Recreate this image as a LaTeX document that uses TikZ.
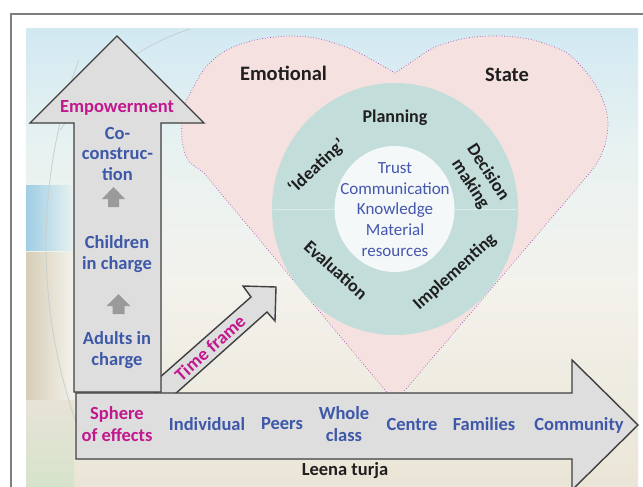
\documentclass[tikz,border=0pt]{standalone}
\usepackage{fontspec}
\setmainfont{Carlito}
\definecolor{lblblue}{HTML}{3D58A8}
\definecolor{lblmag}{HTML}{C2188E}
\definecolor{arrowfill}{HTML}{DEDEDE}
\definecolor{arrowline}{HTML}{3F3F3F}
\definecolor{heartfill}{HTML}{F5E1DF}
\definecolor{heartline}{HTML}{A450B8}
\definecolor{ringfill}{HTML}{C3DDDA}
\definecolor{innerfill}{HTML}{F4F8F8}
\definecolor{innertext}{HTML}{4557AE}
\definecolor{smallarrow}{HTML}{9A9A9A}
\definecolor{frameline}{HTML}{7F7F7F}
\definecolor{bgA}{HTML}{D2E9F2}
\definecolor{bgB}{HTML}{E8F2F1}
\definecolor{bgC}{HTML}{F3F2EC}
\definecolor{bgD}{HTML}{EAE5D6}
\definecolor{patchblue}{HTML}{9FCDE4}
\definecolor{patchtan}{HTML}{D6CDB6}
\definecolor{patchgreen}{HTML}{D6E3CB}
\definecolor{arcline}{HTML}{C9CFCB}
\begin{document}
\begin{tikzpicture}[x=1pt,y=-1pt,
  bigarrow/.style={fill=arrowfill, draw=arrowline, line width=1.4pt, line join=miter},
  lbl/.style={inner sep=0pt, align=center, font=\bfseries\fontsize{18.5}{21}\selectfont},
  bluelbl/.style={lbl, text=lblblue},
  maglbl/.style={lbl, text=lblmag},
  titlelbl/.style={lbl, text=black!88, font=\bfseries\fontsize{20.5}{24}\selectfont},
  ringlbl/.style={lbl, text=black!88, font=\bfseries\fontsize{18}{21}\selectfont},
  smallup/.style={fill=smallarrow}
]
\useasboundingbox (0,0) rectangle (643,487);
\fill[white] (0,0) rectangle (643,487);
% background
\shade[top color=bgA, bottom color=bgB] (26,29) rectangle (638,151);
\shade[top color=bgB, bottom color=bgC] (26,150) rectangle (638,281);
\shade[top color=bgC, bottom color=bgD] (26,280) rectangle (638,487);
\shade[left color=patchblue, right color=bgB] (26,185) rectangle (74,250);
\shade[left color=patchtan, right color=bgC] (26,252) rectangle (74,400);
\shade[top color=patchtan!40!bgC, bottom color=patchgreen] (26,400) rectangle (74,487);
\draw[arcline, line width=0.8pt] (586,245) ++(200:540) arc[start angle=200, end angle=157, radius=540];
\draw[arcline, line width=0.8pt] (190,29) .. controls (140,45) and (100,75) .. (60,130);
% frame
\draw[frameline, line width=1.5pt] (11,487) -- (11,14) -- (643,14);
% heart
\path[fill=heartfill, draw=heartline, line width=0.7pt, dotted]
  (395,402) -- (203,172)
  -- plot[smooth] coordinates {(203,172) (188,160) (182,140) (183,110) (192,90) (205,68) (225,51) (255,40) (290,36) (320,39) (353,50) (383,66) (395,73)}
  -- plot[smooth] coordinates {(395,73) (410,63) (435,47) (467,38) (500,36) (533,40) (567,53) (590,77) (603,100) (608,122) (605,145) (597,163) (588,175)}
  -- cycle;
% ring
\fill[ringfill] (395,209) ellipse[x radius=123, y radius=126];
\draw[ringfill!60!white, line width=0.8pt] (273,209) -- (335,209) (455,209) -- (517,209);
\fill[innerfill] (394.5,209) ellipse[x radius=60, y radius=63];
% time frame arrow
\filldraw[bigarrow] (150,386) -- (251,297) -- (243,286) -- (276,287) -- (275,321) -- (267,312) -- (165,403) -- cycle;
% vertical arrow
\filldraw[bigarrow] (117,36) -- (204,123) -- (161,123) -- (161,392) -- (74,392) -- (74,123) -- (30,123) -- cycle;
% horizontal arrow
\filldraw[bigarrow] (76,393) -- (572,393) -- (572,360) -- (638,425) -- (572,490) -- (572,459) -- (76,459) -- cycle;
% small arrows
\fill[smallup] (113.5,187) -- (125,199) -- (119,199) -- (119,207) -- (108,207) -- (108,199) -- (102,199) -- cycle;
\fill[smallup] (118.5,294) -- (130.5,306) -- (124.5,306) -- (124.5,314) -- (112.5,314) -- (112.5,306) -- (106.5,306) -- cycle;
% labels
\node[titlelbl] (emo) at (283.5,73) {Emotional};
\node[titlelbl] (state) at (507,75) {State};
\node[ringlbl] (plan) at (395,117.5) {Planning};
\node[ringlbl, rotate=43] (idea) at (317,167) {‘Ideating’};
\node[ringlbl, rotate=-57] (dec) at (479,178.5) {Decision\\making};
\node[ringlbl, rotate=-42] (eval) at (336,270) {Evaluation};
\node[ringlbl, rotate=42] (impl) at (455,272) {Implementing};
\node[inner sep=0pt, align=center, text=innertext, font=\fontsize{17}{20.7}\selectfont] (core) at (395,209.5) {Trust\\Communication\\Knowledge\\Material\\resources};
\node[maglbl] (empow) at (117,107.5) {Empowerment};
\node[bluelbl, font=\bfseries\fontsize{18.5}{20.5}\selectfont] (cocon) at (117.5,154) {Co-\\construc-\\tion};
\node[bluelbl] (child) at (117,254) {Children\\in charge};
\node[bluelbl] (adults) at (117,350) {Adults in\\charge};
\node[maglbl, font=\bfseries\fontsize{18.5}{22}\selectfont] (sphere) at (117,424.5) {Sphere\\of effects};
\node[bluelbl] (indiv) at (207,424) {Individual};
\node[bluelbl] (peers) at (282,424) {Peers};
\node[bluelbl, font=\bfseries\fontsize{18.5}{22}\selectfont] (whole) at (344,424) {Whole\\class};
\node[bluelbl] (centre) at (412,424) {Centre};
\node[bluelbl] (fam) at (484,424) {Families};
\node[bluelbl] (comm) at (579,425) {Community};
\node[lbl, text=black!88] (author) at (345,471) {Leena turja};
\node[maglbl, rotate=42] (time) at (210,348) {Time frame};
\end{tikzpicture}
\end{document}
